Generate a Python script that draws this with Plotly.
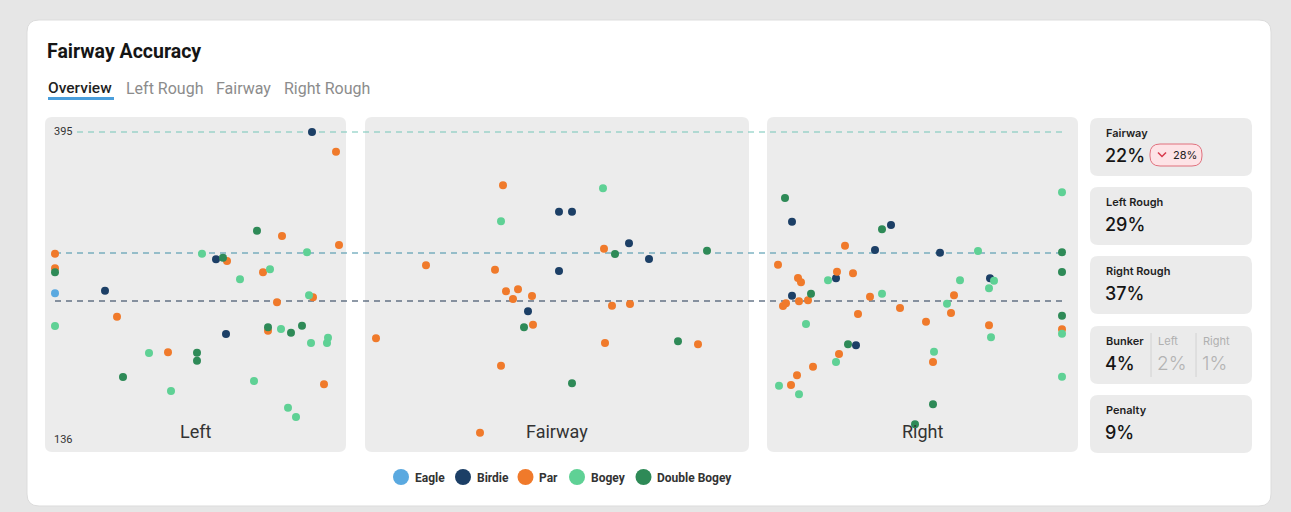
import plotly.graph_objects as go

W, H = 1291, 512

# ---- data -------------------------------------------------------------
# lateral position of each tee shot (0 = left edge of the left rough) and distance in yards
eagle_x = [10]
eagle_yds = [258.9]

birdie_x = [267, 171, 60, 181,
            514, 527, 584, 604, 514, 483,
            747, 846, 830, 895, 791, 945, 747, 811]
birdie_yds = [395, 287.6, 261.1, 224.6,
              327.8, 327.8, 301.1, 287.9, 277.7, 243.7,
              319.3, 316.5, 295.5, 293.2, 271.6, 271.6, 256.9, 215.1]

par_x = [291, 237, 294, 10, 182, 10, 218, 268, 232, 72, 223, 123, 279,
         458, 559, 381, 450, 461, 473, 468, 487, 567, 585, 488, 331, 560, 653, 456, 435,
         800, 733, 792, 808, 753, 756, 763, 754, 741, 738, 825, 909, 855, 906, 813, 881,
         944, 1017, 794, 888, 768, 752, 746]
par_yds = [378.4, 307.3, 299.7, 292.3, 286.2, 280, 276.6, 255.6, 251.3, 239.2, 227.4, 209.2, 182.2,
           350, 296.6, 282.5, 278.8, 260.6, 262.3, 254.1, 256.6, 248.5, 249.9, 232.4, 221, 217, 215.9,
           197.8, 141.3,
           299.1, 283.1, 277.1, 275.8, 271.8, 268.2, 253, 252.2, 250.5, 248.2, 256.1, 257.2, 246.5,
           242.3, 241.5, 235, 231.9, 228.6, 207.7, 201, 197, 189.7, 181.6]

bogey_x = [157, 262, 225, 195, 264, 10, 236, 266, 283, 282, 104, 209, 126, 243, 251,
           558, 456,
           1017, 933, 783, 915, 949, 944, 837, 902, 761, 1017, 946, 889, 791, 734, 754, 1017]
bogey_yds = [292.3, 293.5, 279.2, 270.7, 257.2, 231.3, 228.8, 217, 221.5, 217, 208.6, 184.9, 176.5,
             162.4, 154.6,
             347.5, 319.7,
             344.1, 294.6, 269.9, 269.9, 269.6, 263.1, 258.6, 250.2, 233, 224.8, 221.8, 209.7, 201,
             181, 173.7, 188.6]

dbl_x = [212, 178, 10, 223, 246, 257, 152, 152, 78,
         570, 662, 479, 633, 527,
         740, 837, 1017, 1017, 766, 1017, 803, 888, 870]
dbl_yds = [311.7, 289, 276.6, 230.2, 225.7, 231.6, 208.8, 202.1, 188.3,
           292.1, 294.9, 230.2, 218.4, 183,
           339.3, 312.9, 293.5, 276.9, 258.6, 240, 215.9, 165.3, 148.4]

zones = ["Left", "Fairway", "Right"]
zone_start = [0, 320, 722]
zone_end = [301, 704, 1033]

ref_lines = [395, 292.9, 252.4]
y_ticks = [136, 395]

tabs = ["Overview", "Left Rough", "Fairway", "Right Rough"]

card_labels = ["Fairway", "Left Rough", "Right Rough", "Bunker", "Penalty"]
card_values = ["22%", "29%", "37%", "4%", "9%"]
fairway_change = "28%"
bunker_sides = ["Left", "Right"]
bunker_side_values = ["2%", "1%"]

outcomes = ["Eagle", "Birdie", "Par", "Bogey", "Double Bogey"]
colors = ["#5aa9e0", "#1c3f66", "#f07a2b", "#5fd195", "#2e8a57"]
series = [(eagle_x, eagle_yds), (birdie_x, birdie_yds), (par_x, par_yds),
          (bogey_x, bogey_yds), (dbl_x, dbl_yds)]

FONT = "Roboto"
CARD_FONT = "Inter"


def px(x):
    return x / W


def py(y):
    return 1 - y / H


def rounded_rect(x0, y0, x1, y1, r):
    """SVG path (paper coords) for a rounded rectangle given in pixels"""
    pts = [
        ("M", x0 + r, y0), ("L", x1 - r, y0), ("Q", x1, y0, x1, y0 + r),
        ("L", x1, y1 - r), ("Q", x1, y1, x1 - r, y1), ("L", x0 + r, y1),
        ("Q", x0, y1, x0, y1 - r), ("L", x0, y0 + r), ("Q", x0, y0, x0 + r, y0),
    ]
    out = []
    for p in pts:
        cmd, nums = p[0], p[1:]
        coords = []
        for i in range(0, len(nums), 2):
            coords.append(f"{px(nums[i]):.5f},{py(nums[i + 1]):.5f}")
        out.append(cmd + " " + " ".join(coords))
    return " ".join(out) + " Z"


fig = go.Figure()

for name, color, (xs, ys) in zip(outcomes, colors, series):
    fig.add_trace(go.Scatter(
        x=xs, y=ys, mode="markers", name=name, showlegend=False,
        marker=dict(size=8, color=color, line=dict(width=0)),
    ))

shapes = []
# white card
shapes.append(dict(type="path", path=rounded_rect(27, 20, 1271, 506, 12), xref="paper", yref="paper",
                   fillcolor="white", line=dict(color="#dcdcdc", width=1), layer="below"))
# zone panels
plot_top, plot_bot = 117, 452
x_dom0, x_dom1 = 45, 1078
for s, e in zip(zone_start, zone_end):
    a = x_dom0 + s
    b = x_dom0 + e
    shapes.append(dict(type="path", path=rounded_rect(a, plot_top, b, plot_bot, 7), xref="paper",
                       yref="paper", fillcolor="#ececec", line=dict(width=0), layer="below"))
# reference lines
line_colors = ["#74c6b8", "#3f8da6", "#1f3550"]
for val, c in zip(ref_lines, line_colors):
    shapes.append(dict(type="line", xref="x", yref="y", x0=10, x1=1017, y0=val, y1=val,
                       line=dict(color=c, width=1.2, dash="6px,5px"), layer="below"))
# tab underline
shapes.append(dict(type="line", xref="paper", yref="paper", x0=px(48), x1=px(114), y0=py(98.5), y1=py(98.5),
                   line=dict(color="#4a9edb", width=3)))
# stat cards
card_tops = [118, 187, 256, 326, 395]
for t in card_tops:
    shapes.append(dict(type="path", path=rounded_rect(1090, t, 1252, t + 58, 8), xref="paper", yref="paper",
                       fillcolor="#ebebeb", line=dict(width=0), layer="below"))
# change badge on the fairway card
shapes.append(dict(type="path", path=rounded_rect(1150, 144, 1202, 166, 10), xref="paper", yref="paper",
                   fillcolor="#fde3e6", line=dict(color="#e0707d", width=1)))
shapes.append(dict(type="path", xref="paper", yref="paper",
                   path=f"M {px(1158):.5f},{py(152.5):.5f} L {px(1162):.5f},{py(156.5):.5f} L {px(1166):.5f},{py(152.5):.5f}",
                   line=dict(color="#d8394b", width=1.5)))
# bunker separators
for sx in [1151, 1196]:
    shapes.append(dict(type="line", xref="paper", yref="paper", x0=px(sx), x1=px(sx), y0=py(333), y1=py(377),
                       line=dict(color="#d2d2d2", width=1)))

ann = []
ann.append(dict(text="Fairway Accuracy", x=px(45), y=py(51), xref="paper", yref="paper", showarrow=False,
                xanchor="left", yanchor="middle", font=dict(family=FONT, size=19.5, color="#151515", weight=700)))
tab_x = [48, 126, 216, 284]
for i, (t, x) in enumerate(zip(tabs, tab_x)):
    ann.append(dict(text=t, x=px(x - 2), y=py(88), xref="paper", yref="paper", showarrow=False,
                    xanchor="left", yanchor="middle",
                    font=dict(family=FONT, size=15.5 if i == 0 else 16, color="#1f1f1f" if i == 0 else "#8c8c8c",
                              weight=500 if i == 0 else 400)))
for z, s, e in zip(zones, zone_start, zone_end):
    ann.append(dict(text=z, x=(s + e) / 2, y=py(431), xref="x", yref="paper", showarrow=False,
                    xanchor="center", yanchor="middle", font=dict(family=FONT, size=18, color="#333333")))
for v in y_ticks:
    ann.append(dict(text=str(v), x=px(52), y=v, xref="paper", yref="y", showarrow=False,
                    xanchor="left", yanchor="middle", bgcolor="#ececec", borderpad=1,
                    font=dict(family=FONT, size=11, color="#333333")))
for lab, val, t in zip(card_labels, card_values, card_tops):
    ann.append(dict(text=lab, x=px(1104), y=py(t + 15), xref="paper", yref="paper", showarrow=False,
                    xanchor="left", yanchor="middle",
                    font=dict(family=CARD_FONT, size=11, color="#1f1f1f", weight=600)))
    ann.append(dict(text=val, x=px(1103), y=py(t + 37), xref="paper", yref="paper", showarrow=False,
                    xanchor="left", yanchor="middle",
                    font=dict(family=CARD_FONT, size=18, color="#151515", weight=500)))
ann.append(dict(text=fairway_change, x=px(1171), y=py(155), xref="paper", yref="paper", showarrow=False,
                xanchor="left", yanchor="middle", font=dict(family=CARD_FONT, size=11, color="#222222")))
for lab, val, x in zip(bunker_sides, bunker_side_values, [1156, 1201]):
    ann.append(dict(text=lab, x=px(x), y=py(341), xref="paper", yref="paper", showarrow=False,
                    xanchor="left", yanchor="middle", font=dict(family=CARD_FONT, size=11, color="#b0b0b0")))
    ann.append(dict(text=val, x=px(x - 1), y=py(363), xref="paper", yref="paper", showarrow=False,
                    xanchor="left", yanchor="middle",
                    font=dict(family=CARD_FONT, size=19, color="#b3b3b3", weight=300)))

# legend (drawn by hand to get the compact spacing of the original)
legend_dot_x = [401, 463, 525.5, 577, 643.5]
for name, color, cx in zip(outcomes, colors, legend_dot_x):
    shapes.append(dict(type="circle", xref="paper", yref="paper", x0=px(cx - 8), x1=px(cx + 8),
                       y0=py(485), y1=py(469), fillcolor=color, line=dict(width=0)))
    ann.append(dict(text=name, x=px(cx + 11.5), y=py(477.5), xref="paper", yref="paper", showarrow=False,
                    xanchor="left", yanchor="middle",
                    font=dict(family=FONT, size=12, color="#333333", weight=700)))

fig.update_layout(
    width=W, height=H,
    margin=dict(l=0, r=0, t=0, b=0),
    paper_bgcolor="#e6e6e6",
    plot_bgcolor="rgba(0,0,0,0)",
    shapes=shapes,
    annotations=ann,
    showlegend=False,
    xaxis=dict(domain=[px(x_dom0), px(x_dom1)], range=[0, 1033], visible=False, fixedrange=True),
    yaxis=dict(domain=[py(plot_bot), py(plot_top)], range=[125.03, 407.65], visible=False, fixedrange=True),
)

fig.write_html("out.html", config={"displayModeBar": False},
               post_script="document.body.style.margin='0';document.body.style.overflow='hidden';")
